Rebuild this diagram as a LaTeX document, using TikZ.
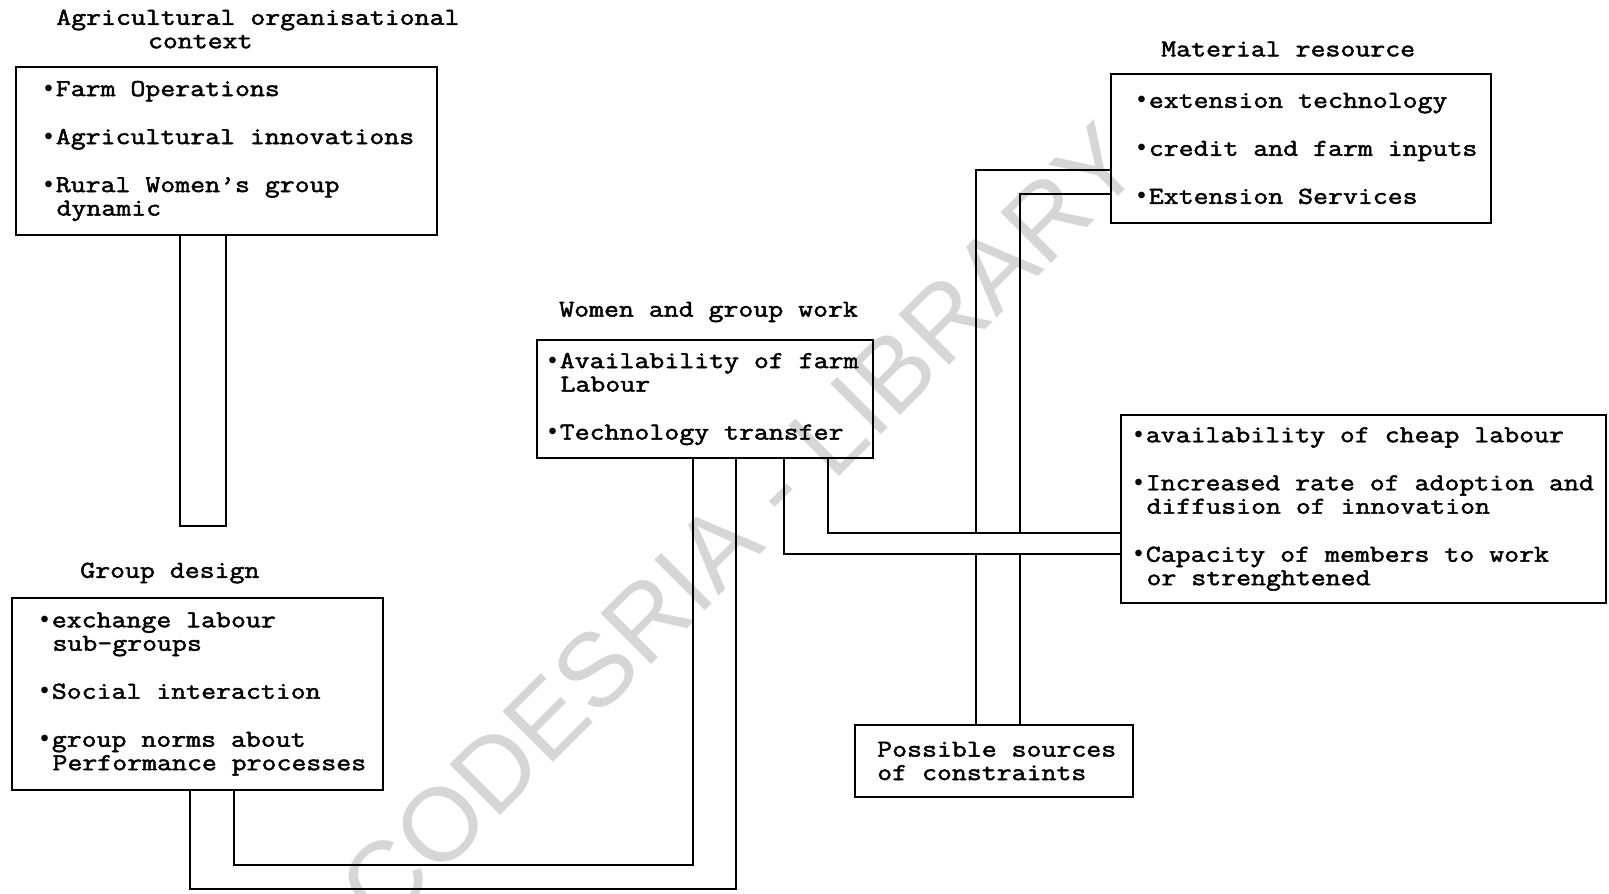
\documentclass[tikz,border=0pt]{standalone}
\usepackage{fontspec}
\setmainfont{Latin Modern Mono}[FakeStretch=1.195, FakeBold=2]
\newfontfamily\bulfont{Liberation Mono}
\newfontfamily\wmfont{Liberation Sans}
\newcommand\ind{\hspace*{0.63em}}
\newcommand\bu{{\bulfont •}}
\begin{document}
\begin{tikzpicture}[x=0.75pt,y=-0.75pt,
  box/.style={draw, line width=1.4pt, inner sep=0pt},
  txt/.style={align=left, inner sep=0pt, font=\fontsize{18.2}{17.6}\selectfont},
  conn/.style={line width=1.4pt},
  wmark/.style={rotate=45, text=black!16, inner sep=0pt, font=\wmfont\fontsize{78}{78}\selectfont}]
\useasboundingbox (0,0) rectangle (1609,893);

% watermark
\node[wmark] (wm) at (740,525) {CODESRIA - LIBRARY};

% boxes
\node[box, minimum width=315.75pt, minimum height=126pt] (b1) at (226.5,151) {};
\node[box, minimum width=278.25pt, minimum height=144pt] (b2) at (197.5,694) {};
\node[box, minimum width=252pt, minimum height=88.5pt] (b3) at (705,399) {};
\node[box, minimum width=285pt, minimum height=111.75pt] (b5) at (1301,148.5) {};
\node[box, minimum width=363.75pt, minimum height=141pt] (b4) at (1363.5,509) {};
\node[box, minimum width=208.5pt, minimum height=54pt] (b6) at (994,761) {};

% box texts
\node[txt, anchor=west] (t1) at (41,151) {\bu Farm Operations\\[18.4pt]\bu Agricultural innovations\\[18.4pt]\bu Rural Women’s group\\\ind dynamic};
\node[txt, anchor=west] (t2) at (37,694) {\bu exchange labour\\\ind sub-groups\\[18.4pt]\bu Social interaction\\[18.4pt]\bu group norms about\\\ind Performance processes};
\node[txt, anchor=west] (t3) at (545,399) {\bu Availability of farm\\\ind Labour\\[18.4pt]\bu Technology transfer};
\node[txt, anchor=west] (t5) at (1134,148.5) {\bu extension technology\\[18.4pt]\bu credit and farm inputs\\[18.4pt]\bu Extension Services};
\node[txt, anchor=west] (t4) at (1131,509) {\bu availability of cheap labour\\[18.4pt]\bu Increased rate of adoption and\\\ind diffusion of innovation\\[18.4pt]\bu Capacity of members to work\\\ind or strenghtened};
\node[txt, anchor=west] (t6) at (877,761) {Possible sources\\of constraints};

% titles
\node[txt, anchor=west] (l1) at (56,29) {Agricultural organisational\\\hspace*{3.78em}context};
\node[txt, anchor=west] (l2) at (80,573) {Group design};
\node[txt, anchor=west] (l3) at (559,312) {Women and group work};
\node[txt, anchor=west] (l5) at (1161,49) {Material resource};

% connectors
\draw[conn] (b1.south -| 180,0) -- (180,526) -- (226,526) -- (b1.south -| 226,0);

\draw[conn] (b2.south -| 234,0) -- (234,865) -- (693,865) -- (b3.south -| 693,0);
\draw[conn] (b2.south -| 190,0) -- (190,889) -- (736,889) -- (b3.south -| 736,0);

\draw[conn] (b3.south -| 828,0) |- (b4.west |- 0,533);
\draw[conn] (b3.south -| 784,0) |- (b4.west |- 0,554);

\coordinate (c1) at (976,533);
\coordinate (c2) at (1020,533);
\coordinate (c3) at (976,554);
\coordinate (c4) at (1020,554);
\draw[conn] (b5.west |- 0,170) -| (c1);
\draw[conn] (b5.west |- 0,194) -| (c2);
\draw[conn] (c3) -- (b6.north -| c3);
\draw[conn] (c4) -- (b6.north -| c4);
\end{tikzpicture}
\end{document}
